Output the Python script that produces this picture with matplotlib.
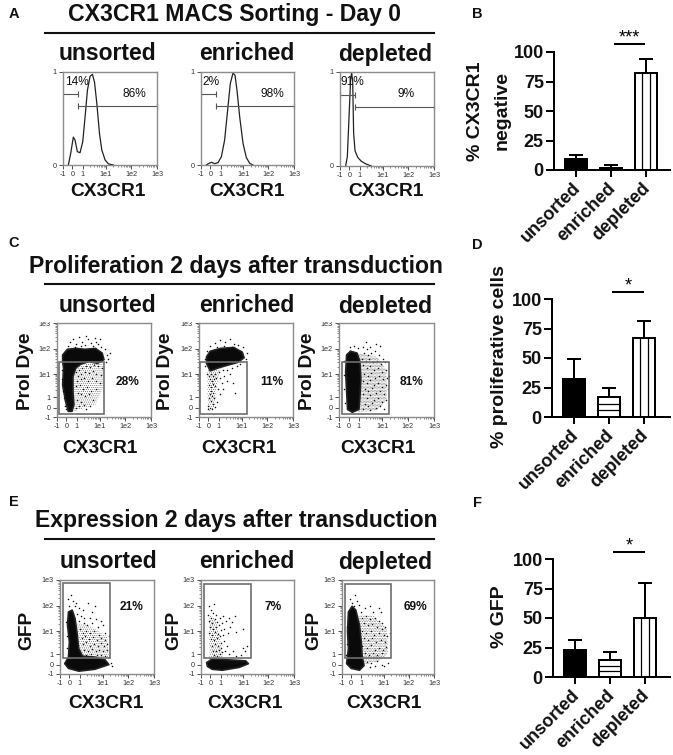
import matplotlib
matplotlib.use('Agg')
import matplotlib.pyplot as plt
from matplotlib.patches import Polygon, Rectangle
from matplotlib.transforms import ScaledTranslation
import numpy as np

plt.rcParams['font.family'] = ['Liberation Sans', 'DejaVu Sans']
plt.rcParams['hatch.linewidth'] = 0.3

W, H = 673, 755
groups = ['unsorted', 'enriched', 'depleted']

# bar charts: mean and top of the error bar
b_vals = [9, 2, 82]
b_tops = [12.5, 4.5, 94]
d_vals = [32, 17, 67]
d_tops = [49, 25, 81]
f_vals = [22.5, 14, 50]
f_tops = [31, 21, 80]

# histograms, x and y as percent of the axis
h1_x = [5.7, 8.2, 11, 12.8, 15.3, 18.1, 21, 23.5, 26, 28.8, 31.3, 33.5, 36, 38.8, 41.3, 44.8, 48.4, 53.7]
h1_y = [0, 12.5, 30, 26.8, 14.3, 13.2, 25, 51.8, 80.4, 95.4, 97.5, 89.3, 66, 33.9, 16.1, 5.4, 1.1, 0]
h2_x = [5.7, 8.6, 11.5, 14.7, 18.3, 21.9, 25.4, 29, 31.5, 34.4, 36.6, 38.7, 41.6, 45.2, 48.7, 52.3, 55.9]
h2_y = [0, 1.8, 2.9, 1.4, 2.5, 8.9, 26.8, 62.5, 87.5, 98.9, 96.4, 80.4, 51.8, 23.2, 8.2, 1.8, 0]
h3_x = [6, 7.8, 9.6, 11.3, 12.4, 13.5, 14.5, 16, 19, 22.7, 28, 33.3]
h3_y = [0, 10, 52, 92, 99, 90, 35, 16, 9, 5, 2, 0]

# dot plots: dense core, speckled zone and single dots, percent of the axis
c1_core = [(6,66),(11,72),(20,73),(30,72),(41,73),(48,68),(50,61),(43,57),(34,59),(25,56),(20,52),(17,43),(17,27),(18,13),(16,6),(12,6),(9,17),(6,34),(7,52),(6,59)]
c1_haze = [(17,52),(34,57),(50,57),(50,34),(41,13),(30,10),(18,6)]
c1_pts = [(14,80),(17,83),(20,78),(23,85),(27,80),(30,77),(33,83),(36,79),(40,84),(44,78),(47,75),(51,72),(53,66),(12,76),(25,76),(38,76),(42,80),(19,75),(31,86),(46,83),
          (54,62),(52,58),(56,68),(20,48),(23,50),(27,52),(31,54),(35,53),(39,55),(44,54),(48,52),(22,44),(26,46),(30,48),(34,47),(38,49),(42,46),(47,45),(21,38),(25,40),(29,42),(33,38),(37,41),(41,38),(46,36),
          (20,33),(24,34),(28,30),(32,32),(36,28),(41,30),(22,26),(26,24),(30,22),(34,25),(38,18),(21,18),(25,16),(29,13),(23,12),(20,10),(35,12),(31,8),(5,50),(5,40),(6,28),(7,20),(8,12),(10,8)]
c2_core = [(8,64),(12,70),(23,73),(37,74),(46,69),(48,63),(41,58),(30,55),(20,52),(12,49),(8,57)]
c2_haze = [(9,50),(22,50),(18,28),(17,10),(10,6),(9,25)]
c2_pts = [(12,76),(17,79),(22,82),(28,80),(33,83),(37,78),(42,77),(47,74),(51,68),(50,62),(19,75),(27,76),(35,75),(8,70),(6,62),(6,54),(9,46),
          (11,44),(13,46),(15,44),(17,46),(12,40),(14,38),(16,40),(18,42),(11,34),(13,32),(15,35),(17,33),(13,28),(15,26),(12,24),(14,22),(16,20),(11,20),(13,17),(15,14),(10,12),(12,10),(14,9),(17,11),(10,8),
          (21,48),(25,50),(30,50),(35,52),(40,54),(44,56),(22,42),(27,44),(33,46),(24,36),(30,38),(26,30),(36,36),(38,26),(22,24),(20,30),(19,16)]
c3_core = [(8,66),(12,70),(19,68),(22,59),(23,41),(22,20),(21,8),(14,5),(9,8),(8,27),(7,48)]
c3_haze = [(20,68),(40,64),(50,50),(50,18),(40,7),(20,5)]
c3_pts = [(12,74),(16,76),(20,73),(25,74),(29,72),(33,75),(28,80),(39,78),(43,76),(26,68),(30,66),(34,68),(38,70),(42,66),(46,62),(24,62),(28,60),(32,62),(36,58),(40,60),(44,56),(48,58),
          (25,55),(29,52),(33,54),(37,50),(41,52),(45,48),(49,50),(26,46),(30,44),(34,47),(38,42),(42,44),(46,40),(50,42),(25,38),(29,36),(33,39),(37,34),(41,36),(45,32),(49,34),
          (27,30),(31,28),(35,31),(39,26),(43,28),(47,24),(25,24),(29,20),(33,23),(37,18),(41,20),(45,16),(49,18),(27,14),(31,12),(35,15),(39,10),(43,12),(25,9),(33,7),(47,9),(52,30),(53,44),(5,60),(5,45),(5,30),(6,15)]
e1_core = [(9,66),(13,68),(16,59),(18,45),(20,27),(24,19),(37,18),(48,15),(52,10),(37,5),(20,3),(9,6),(5,11),(9,18),(10,34),(8,52)]
e1_haze = [(18,54),(30,52),(50,40),(52,18),(22,16)]
e1_pts = [(9,80),(12,84),(14,78),(17,76),(10,72),(16,72),(20,70),(24,68),(30,76),(34,66),(37,72),(18,64),(22,62),(26,60),(32,60),(38,58),(44,56),(20,56),(25,54),(29,52),(34,54),(40,50),(46,52),
          (21,48),(24,44),(28,46),(32,44),(36,46),(42,42),(48,44),(23,38),(27,40),(31,37),(35,39),(39,36),(44,38),(48,36),(52,40),(24,32),(28,34),(32,30),(36,32),(40,30),(44,33),(47,30),(50,32),
          (26,26),(30,24),(34,27),(38,24),(42,26),(46,24),(50,26),(28,20),(33,21),(39,20),(44,20),(48,19),(6,55),(7,40),(7,28),(52,18),(54,12),(55,8)]
e2_core = [(6,12),(12,16),(30,15),(48,14),(51,11),(41,7),(23,4),(12,5),(7,8)]
e2_haze = [(9,62),(15,60),(20,42),(24,16),(9,16),(9,40)]
e2_pts = [(9,72),(11,68),(14,74),(13,65),(16,63),(8,63),(11,60),(15,59),(9,56),(12,54),(17,55),(20,60),(24,62),(30,60),(37,62),(10,50),(13,48),(16,50),(19,52),(23,54),(27,56),(33,55),
          (9,44),(12,42),(15,45),(18,43),(21,47),(25,48),(31,50),(11,37),(14,36),(17,38),(20,40),(24,41),(29,44),(38,45),(45,48),(12,30),(15,32),(18,30),(21,33),(25,35),
          (13,25),(16,24),(19,26),(22,28),(28,30),(14,20),(17,19),(20,21),(23,23),(26,25),(34,24),(45,28),(49,30),(47,24),(30,21),(38,19),(43,20)]
e3_core = [(7,66),(11,72),(15,68),(19,52),(21,34),(22,18),(24,9),(19,4),(10,6),(5,11),(7,27),(6,45)]
e3_haze = [(18,62),(34,62),(49,48),(50,22),(40,13),(22,10)]
e3_pts = [(9,80),(11,76),(14,84),(16,78),(18,73),(13,72),(21,66),(25,70),(30,72),(34,66),(40,70),(42,66),(22,60),(26,62),(30,58),(36,60),(40,56),(44,54),(24,54),(28,52),(33,53),(38,50),(43,48),(47,50),
          (22,46),(26,44),(31,46),(35,42),(40,44),(46,42),(49,40),(24,38),(28,36),(33,38),(37,34),(42,36),(47,34),(52,44),(22,30),(27,28),(31,31),(36,26),(40,28),(45,26),(48,29),
          (25,22),(29,20),(34,22),(38,20),(43,22),(27,13),(32,12),(38,14),(43,10),(46,8),(30,7),(36,8),(50,12),(5,50),(5,32),(4,20)]

biex_pos = [0, 10, 21, 45.5, 72.5, 100]
biex_lab = ['-1', '0', '1', '1e1', '1e2', '1e3']

fig = plt.figure(figsize=(W/100, H/100), dpi=100)


def px_axes(x0, y0, x1, y1):
    return fig.add_axes([x0/W, 1-y1/H, (x1-x0)/W, (y1-y0)/H])


def label(x, y, s, size, weight='bold', rotation=0, color='#111111'):
    fig.text(x/W, 1-y/H, s, fontsize=size, fontweight=weight, rotation=rotation,
             ha='center', va='center', color=color)


def rule(y):
    fig.add_artist(plt.Line2D([45/W, 434/W], [1-y/H, 1-y/H], color='#111111', lw=1.5))


def minor_pos():
    out = []
    for a, b in zip(biex_pos[2:-1], biex_pos[3:]):
        out += list(a + (b-a)*np.log10(np.arange(2, 10)))
    return out


def flow_frame(ax, both=True):
    ax.set_xlim(0, 100)
    ax.set_ylim(0, 100)
    for s in ax.spines.values():
        s.set_color('#8c8c8c')
        s.set_linewidth(1.0)
    ax.set_xticks(biex_pos)
    ax.set_xticklabels(biex_lab)
    ax.set_xticks(minor_pos(), minor=True)
    if both:
        ax.set_yticks(biex_pos)
        ax.set_yticklabels(biex_lab)
        ax.set_yticks(minor_pos(), minor=True)
    else:
        ax.set_yticks([0, 100])
        ax.set_yticklabels(['0', '1'])
    ax.tick_params(which='major', length=3, width=0.6, labelsize=5.2, pad=1.5, colors='#333333')
    ax.tick_params(which='minor', length=1.5, width=0.4, colors='#333333')


def hist_panel(rect, x, y, gate_l, gate_r):
    ax = px_axes(*rect)
    flow_frame(ax, both=False)
    ax.plot(x, y, color='#222222', lw=0.9)
    ax.plot(gate_l, [76, 76], color='#555555', lw=0.8, marker='|', ms=5, mew=0.8)
    ax.plot(gate_r, [63, 63], color='#555555', lw=0.8, marker='|', ms=5, mew=0.8, clip_on=False)
    return ax


def dot_panel(rect, core, haze, pts, gate, speckle):
    ax = px_axes(*rect)
    flow_frame(ax)
    ax.add_patch(Polygon(haze, closed=True, fc='none', ec='#444444', lw=0, hatch=speckle, zorder=1))
    ax.add_patch(Polygon(core, closed=True, fc='#0a0a0a', ec='#222222', lw=1.2, joinstyle='round', zorder=2))
    xs, ys = zip(*pts)
    ax.scatter(xs, ys, s=1.2, c='#111111', linewidths=0, zorder=3)
    ax.add_patch(Rectangle((gate[0], gate[2]), gate[1]-gate[0], gate[3]-gate[2], fc='none', ec='#6e6e6e', lw=1.2, zorder=4))
    return ax


def bar_panel(x_spine, x_first, y_top, y_base, vals, tops, stars, sig_y, star_y, sig_x0, sig_x1):
    step = 35.0
    ax = px_axes(x_spine, y_top, 670, y_base)
    ax.set_xlim((x_spine-x_first)/step, (670-x_first)/step)
    ax.set_ylim(0, 100)
    xs = np.arange(3)
    width = 22/step
    ax.bar(xs, vals, width, color=['black', 'white', 'white'], edgecolor='black', linewidth=1.44, zorder=2)
    ax.errorbar(xs, vals, yerr=[[0, 0, 0], np.array(tops)-np.array(vals)], fmt='none', ecolor='black',
                elinewidth=1.44, capsize=4.7, capthick=1.44, zorder=1)
    # stripes inside the two open bars
    ax.hlines([vals[1]/3, 2*vals[1]/3], 1-width/2, 1+width/2, color='black', lw=0.9, zorder=3)
    ax.vlines([2-width/6, 2+width/6], 0, vals[2], color='black', lw=0.9, zorder=3)
    ax.spines['top'].set_visible(False)
    ax.spines['right'].set_visible(False)
    ax.spines['left'].set_linewidth(1.44)
    ax.spines['bottom'].set_linewidth(1.44)
    ax.set_yticks([0, 25, 50, 75, 100])
    ax.set_xticks(xs)
    ax.set_xticklabels(groups, rotation=45, ha='right', va='top', rotation_mode='anchor')
    ax.tick_params(axis='y', length=5.8, width=1.44, labelsize=13, pad=1.5, labelcolor='#111111')
    ax.tick_params(axis='x', length=5, width=1.44, labelsize=13, pad=2, labelcolor='#111111')
    shift = ScaledTranslation(-4/100, 0, fig.dpi_scale_trans)
    for t in ax.get_xticklabels():
        t.set_fontweight('bold')
        t.set_transform(t.get_transform() + shift)
    for t in ax.get_yticklabels():
        t.set_fontweight('bold')
    fig.add_artist(plt.Line2D([sig_x0/W, sig_x1/W], [1-sig_y/H, 1-sig_y/H], color='black', lw=1.44))
    label((sig_x0+sig_x1)/2, star_y, stars, 13, weight='normal', color='black')
    return ax


# panel A
label(14, 14, 'A', 10.5)
label(235, 14, 'CX3CR1 MACS Sorting - Day 0', 16.6)
rule(32.5)
hist_panel((63, 72, 157, 165), h1_x, h1_y, [0, 15.7], [15.7, 100])
hist_panel((201, 72, 294, 165), h2_x, h2_y, [0, 16.5], [16.5, 100])
hist_panel((340, 72, 434, 166), h3_x, h3_y, [0, 16], [16, 100])
for x, s in zip([107, 247, 385], groups):
    label(x, 54, s, 16.5)
for x in [108, 247, 386]:
    label(x, 192, 'CX3CR1', 13.8)
for x, y, s in [(77, 82, '14%'), (134, 94, '86%'), (211, 82, '2%'), (272, 94, '98%'), (352, 82, '91%'), (406, 94, '9%')]:
    label(x, y, s, 8.6, weight='normal')

# panel C
label(14, 243, 'C', 10.5)
label(236, 267, 'Proliferation 2 days after transduction', 16.6)
rule(284)
for x, s in zip([107, 247, 385], groups):
    label(x, 306, s, 16.5)
# the titles of this row are cut off by the plots below them
fig.add_artist(Rectangle((40/W, 1-322/H), 400/W, 9/H, fc='white', ec='none', zorder=5))
dot_panel((57, 323, 151, 417), c1_core, c1_haze, c1_pts, (2, 50.5, 3, 58.5), '........')
dot_panel((199, 323, 293, 417), c2_core, c2_haze, c2_pts, (1.5, 51.5, 3, 58.5), '........')
dot_panel((339, 323, 434, 417), c3_core, c3_haze, c3_pts, (3, 52.5, 3, 58.5), '............')
for x in [25, 166, 307]:
    label(x, 371, 'Prol Dye', 13.8, rotation=90)
for x in [100, 239, 378]:
    label(x, 448, 'CX3CR1', 13.8)
for x, s in zip([128, 272, 412], ['28%', '11%', '81%']):
    label(x, 382, s, 8.6)

# panel E
label(14, 502, 'E', 10.5)
label(236, 521, 'Expression 2 days after transduction', 16.6)
rule(539)
for x, s in zip([108, 247, 385], groups):
    label(x, 562, s, 16.5)
dot_panel((60, 580, 154, 674), e1_core, e1_haze, e1_pts, (3.5, 53.5, 17.5, 96.5), '........')
dot_panel((201, 580, 294, 674), e2_core, e2_haze, e2_pts, (3.2, 54, 17.5, 96), '........')
dot_panel((342, 580, 434, 674), e3_core, e3_haze, e3_pts, (3, 53, 17.5, 95.5), '..........')
for x in [27, 174, 314]:
    label(x, 630, 'GFP', 13.8, rotation=90)
for x in [106, 245, 384]:
    label(x, 703, 'CX3CR1', 13.8)
for x, s in zip([132, 273, 415], ['21%', '7%', '69%']):
    label(x, 607, s, 8.6)

# bar charts on the right
label(477, 14, 'B', 10.5)
bar_panel(554, 576, 52, 170, b_vals, b_tops, '***', 44, 38, 615, 644)
label(476, 111, '% CX3CR1', 14, rotation=90)
label(502, 110, 'negative', 14, rotation=90)

label(477, 245, 'D', 10.5)
bar_panel(552, 574, 299, 417, d_vals, d_tops, '*', 292, 286, 613, 643)
label(499, 357, '% proliferative cells', 14, rotation=90)

label(477, 503, 'F', 10.5)
bar_panel(553, 575, 559, 677, f_vals, f_tops, '*', 552, 546, 614, 644)
label(500, 617, '% GFP', 14, rotation=90)

fig.savefig('out.png', dpi=100)
